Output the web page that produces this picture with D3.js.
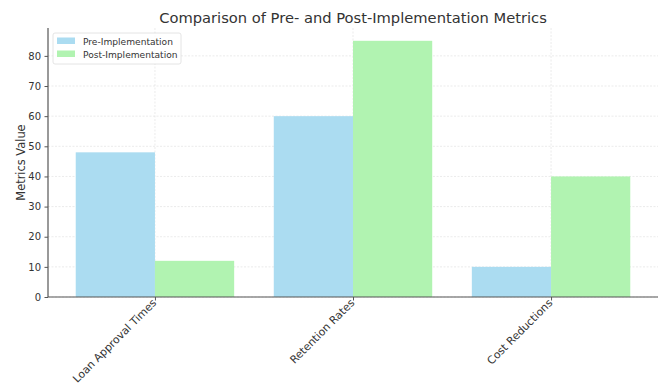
<!DOCTYPE html>
<html>
<head>
<meta charset="utf-8">
<script src="https://cdn.jsdelivr.net/npm/d3@7"></script>
<style>
  html, body { margin: 0; padding: 0; background: #fff; }
  svg { display: block; font-family: "DejaVu Sans", sans-serif; }
</style>
</head>
<body>
<svg id="chart" width="661" height="387"></svg>
<script>
// Metric categories and the two series compared across them
const categories = ["Loan Approval Times", "Retention Rates", "Cost Reductions"];
const preValues = [48, 60, 10];
const postValues = [12, 85, 40];
const seriesNames = ["Pre-Implementation", "Post-Implementation"];
const yTicks = [0, 10, 20, 30, 40, 50, 60, 70, 80];

const colors = ["#abdcf1", "#b1f3b1"];
const textColor = "#333";
const axisColor = "#555";

const svg = d3.select("#chart");
const margin = { left: 48, right: 3, top: 28, bottom: 90 };
const W = 661, H = 387;
const plotW = W - margin.left - margin.right;
const plotH = H - margin.top - margin.bottom;
const g = svg.append("g").attr("transform", `translate(${margin.left},${margin.top})`);

// Bars of width 0.4 on either side of each category index; padded domain
const barW = 0.4;
const x = d3.scaleLinear().domain([-0.54, categories.length - 1 + 0.54]).range([0, plotW]);
const y = d3.scaleLinear().domain([0, d3.max(postValues.concat(preValues)) * 1.05]).range([plotH, 0]);

// Dashed grid
const gridStyle = sel => sel.attr("stroke", "#dedede").attr("stroke-width", 0.6).attr("stroke-dasharray", "2,1.5");
g.append("g").selectAll("line").data(yTicks).join("line")
  .attr("x1", 0).attr("x2", plotW)
  .attr("y1", d => y(d)).attr("y2", d => y(d))
  .call(gridStyle);
g.append("g").selectAll("line").data(categories).join("line")
  .attr("x1", (d, i) => x(i)).attr("x2", (d, i) => x(i))
  .attr("y1", 0).attr("y2", plotH)
  .call(gridStyle);

// Bars
const series = [preValues, postValues];
series.forEach((vals, s) => {
  g.append("g").selectAll("rect").data(vals).join("rect")
    .attr("x", (d, i) => x(i + (s === 0 ? -barW : 0)))
    .attr("width", x(barW) - x(0))
    .attr("y", d => y(d))
    .attr("height", d => plotH - y(d))
    .attr("fill", colors[s]);
});

// Y axis
const yAxis = g.append("g")
  .call(d3.axisLeft(y).tickValues(yTicks).tickSize(3.5).tickPadding(3.5));
yAxis.select(".domain").attr("stroke", axisColor).attr("stroke-width", 1.2).attr("d", `M0,0V${plotH}`);
yAxis.selectAll(".tick line").attr("stroke", axisColor);
yAxis.selectAll(".tick text").attr("fill", textColor).style("font-size", "10px")
  .style("font-family", "DejaVu Sans");

// X axis
const xAxis = g.append("g").attr("transform", `translate(0,${plotH})`)
  .call(d3.axisBottom(x).tickValues(d3.range(categories.length)).tickFormat(i => categories[i])
    .tickSize(3.5).tickPadding(3.5));
xAxis.select(".domain").attr("stroke", axisColor).attr("stroke-width", 1.2).attr("d", `M0,0H${plotW}`);
xAxis.selectAll(".tick line").attr("stroke", axisColor);
xAxis.selectAll(".tick text").attr("fill", textColor).style("font-size", "10.8px")
  .style("font-family", "DejaVu Sans")
  .attr("text-anchor", "end")
  .attr("dy", "0.35em")
  .attr("transform", "translate(-6,-1) rotate(-45)");

// Title
svg.append("text").attr("x", margin.left + plotW / 2).attr("y", 23)
  .attr("text-anchor", "middle").attr("fill", textColor)
  .style("font-size", "14.7px").text("Comparison of Pre- and Post-Implementation Metrics");

// Y axis label
svg.append("text")
  .attr("transform", `translate(25,${margin.top + plotH / 2}) rotate(-90)`)
  .attr("text-anchor", "middle").attr("fill", textColor)
  .style("font-size", "11.4px").text("Metrics Value");

// Legend
const lg = svg.append("g").attr("transform", "translate(53,33)");
lg.append("rect").attr("width", 128).attr("height", 31).attr("rx", 2)
  .attr("fill", "#fff").attr("fill-opacity", 0.8).attr("stroke", "#ddd").attr("stroke-width", 0.8);
seriesNames.forEach((name, i) => {
  lg.append("rect").attr("x", 4).attr("y", 4.5 + i * 13).attr("width", 18).attr("height", 6.5)
    .attr("fill", colors[i]);
  lg.append("text").attr("x", 30).attr("y", 11.5 + i * 13.5).attr("fill", textColor)
    .style("font-size", "9.1px").text(name);
});
</script>
</body>
</html>
